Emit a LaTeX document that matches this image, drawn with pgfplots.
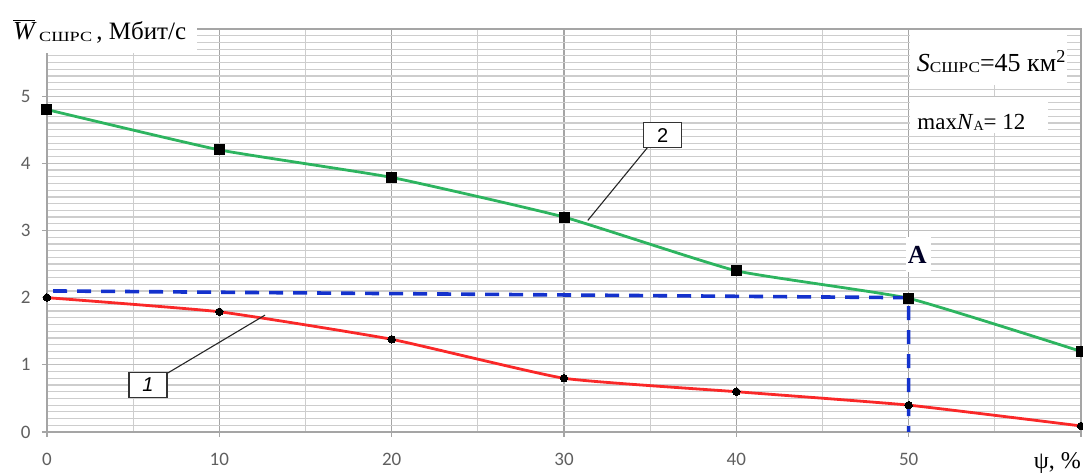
\documentclass[border=0pt]{standalone}
\usepackage{pgfplots}
\pgfplotsset{compat=1.18}
\usepackage{graphicx}
\usepackage{fontspec}
\setmainfont{Liberation Serif}
\newfontfamily\calibri{Carlito}
\newfontfamily\arialf{Liberation Sans}
\definecolor{cgreen}{RGB}{45,180,95}
\definecolor{cred}{RGB}{250,40,40}
\definecolor{cblue}{RGB}{20,50,205}
\definecolor{ctick}{RGB}{95,95,95}
\definecolor{gmin}{RGB}{205,205,205}
\definecolor{gmajx}{RGB}{165,165,165}
\definecolor{gmajy}{RGB}{192,192,192}
\begin{document}
\begin{tikzpicture}
\begin{axis}[
  scale only axis, width=1034pt, height=403pt,
  xmin=0, xmax=60, ymin=0, ymax=6,
  xtick={0,10,...,60}, xticklabels={0,10,20,30,40,50,},
  ytick={0,...,6}, yticklabels={0,1,2,3,4,5,},
  minor x tick num=1, minor y tick num=9,
  grid=both,
  major x grid style={draw=gmajx, line width=1.3pt},
  major y grid style={draw=gmajy, line width=1.2pt},
  minor grid style={draw=gmin, line width=1.2pt},
  axis line style={draw=gmajx, line width=1.3pt},
  tick align=outside, xtick pos=bottom, ytick pos=left,
  major tick length=5pt, minor tick length=0pt,
  tick style={draw=gmajx, line width=1.3pt},
  /pgf/number format/assume math mode=true,
  ticklabel style={font=\calibri\fontsize{19}{19}\selectfont, text=ctick},
  xticklabel style={yshift=-13pt},
  yticklabel style={xshift=-8pt},
  clip=false,
]
\coordinate (sw) at (rel axis cs:0,0);
\coordinate (ne) at (rel axis cs:1,1);
% red series 1
\addplot[cred, line width=2.8pt, smooth, tension=0.25, mark=*, mark size=3.7pt,
  mark options={fill=black, draw=black, line width=0pt, solid}]
  coordinates {(0,2.0) (10,1.79) (20,1.38) (30,0.8) (40,0.6) (50,0.4) (60,0.09)};
% green series 2
\addplot[cgreen, line width=2.8pt, smooth, tension=0.25, mark=square*, mark size=5pt,
  mark options={fill=black, draw=black, line width=0pt, solid}]
  coordinates {(0,4.8) (10,4.2) (20,3.79) (30,3.2) (40,2.4) (50,1.99) (60,1.2)};
% blue dashed
\addplot[cblue, line width=3.6pt, dash pattern=on 14pt off 10pt, mark=none]
  coordinates {(0.35,2.1) (50,2.0) (50,0)};
% callouts
\draw[black!85, line width=1.1pt] (axis cs:31.38,3.15) -- (axis cs:34.86,4.24);
\node[draw=black!80, line width=1.1pt, fill=white, minimum width=38pt, minimum height=25pt, inner sep=0pt,
  font=\arialf\fontsize{20}{20}\selectfont] at (axis cs:35.73,4.42) {2};
\draw[black!85, line width=1.1pt] (axis cs:7.02,0.88) -- (axis cs:12.65,1.74);
\node[draw=black!80, line width=1.1pt, fill=white, minimum width=38pt, minimum height=25pt, inner sep=0pt,
  font=\arialf\itshape\fontsize{20}{20}\selectfont] at (axis cs:5.86,0.70) {1};
% A
\fill[white] (axis cs:49.85,2.38) rectangle (axis cs:51.3,2.9);
\node[font=\bfseries\fontsize{26}{26}\selectfont, text=black!85!blue] at (axis cs:50.5,2.63) {A};
% info boxes
\fill[white] (axis cs:50.08,5.16) rectangle (axis cs:59.16,5.98);
\fill[white] (axis cs:50.08,4.45) rectangle (axis cs:58.06,4.99);
\node[anchor=base west, inner sep=0pt, font=\fontsize{26}{26}\selectfont] at (axis cs:50.46,5.36)
  {\textit{S}\raisebox{-1pt}{\fontsize{15}{15}\selectfont\scalebox{1.15}[1]{СШРС}}=45 км$^{\mathrm{2}}$};
\node[anchor=base west, inner sep=0pt, font=\fontsize{23}{23}\selectfont] at (axis cs:50.5,4.51)
  {max\textit{N}\raisebox{-1pt}{\fontsize{14}{14}\selectfont A}= 12};
% title
\fill[white] (axis cs:-2.8,5.65) rectangle (axis cs:8.7,6.5);
\node[anchor=base west, inner sep=0pt] at (axis cs:-1.97,5.85)
  {\fontsize{26}{26}\selectfont$\overline{\hbox{\itshape W}}$\,\raisebox{-2pt}{\fontsize{14}{14}\selectfont\scalebox{1.3}[1]{СШРС}}\fontsize{25}{25}\selectfont\,, Мбит/с};
% x axis label
\node[anchor=base east, inner sep=0pt, font=\fontsize{24}{24}\selectfont] at (axis cs:60,-0.55) {ψ, \%};
\end{axis}
\pgfresetboundingbox
\path[use as bounding box] ([shift={(-47pt,-41pt)}]sw) rectangle ([shift={(2pt,29pt)}]ne);
\end{tikzpicture}
\end{document}
